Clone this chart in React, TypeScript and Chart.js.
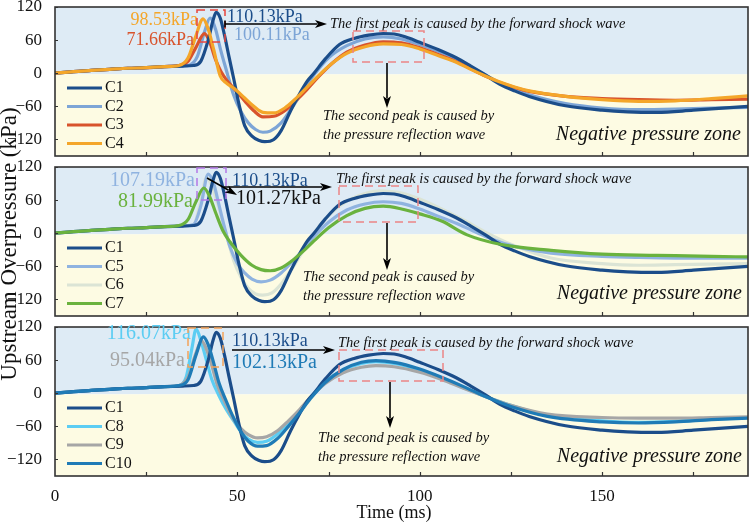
import React, { useEffect, useRef } from "react";
import { Chart, registerables } from "chart.js";

Chart.register(...registerables);

const SERIF = '"Liberation Serif", "Times New Roman", Times, serif';
const W = 750;
const H = 524;

// Peak overpressures (kPa) of the forward shock wave
const PEAK_C1 = 110.13;
const PEAK_C2 = 100.11;
const PEAK_C3 = 71.66;
const PEAK_C4 = 98.53;
const PEAK_C5 = 107.19;
const PEAK_C6 = 101.27;
const PEAK_C7 = 81.99;
const PEAK_C8 = 116.07;
const PEAK_C9 = 95.04;
const PEAK_C10 = 102.13;

// Time (ms) / upstream overpressure (kPa) for each case
const tC1 = [0, 5, 10, 15, 20, 25, 30, 35, 38, 40, 42, 43.3, 44.2, 45.3, 46.5, 47.7, 49, 50.5, 52, 54, 56, 57.5, 60, 62, 64.6, 67, 69.2, 71, 74, 78, 82, 86, 90, 93, 96, 100, 105, 110, 114, 118, 122, 126, 130, 140, 150, 157, 165, 175, 190];
const pC1 = [0, 3, 5, 7, 9, 10, 12, 13, 14, 22, 60, 95, PEAK_C1, 100, 68, 30, -10, -58, -95, -114, -122, -124, -120, -104, -68, -38, -14, 0, 25, 52, 63, 69, 72, 71, 66, 56, 43, 28, 13, -3, -20, -32, -42, -59, -67, -70, -71, -67, -60];

const tC2 = [0, 5, 10, 15, 20, 25, 30, 35, 37, 39, 41, 42.5, 44, 45.5, 47, 49, 51, 53, 55, 57, 59, 62, 65, 68, 71, 75, 80, 85, 90, 95, 100, 105, 110, 114, 118, 122, 126, 130, 140, 150, 160, 170, 180, 190];
const pC2 = [0, 3, 5, 7, 9, 10, 12, 13, 15, 30, 75, PEAK_C2, 80, 40, 5, -40, -70, -90, -102, -107, -105, -90, -62, -32, -3, 28, 50, 62, 66, 62, 52, 40, 26, 12, -3, -18, -30, -39, -55, -63, -66, -65, -63, -62];

const tC3 = [0, 5, 10, 15, 20, 25, 30, 34, 36.5, 38.5, 41, 42.5, 44, 45.5, 47, 49, 52, 54.5, 57, 60, 63, 66, 69, 72, 76, 80, 85, 90, 95, 100, 105, 110, 114, 118, 122, 126, 130, 140, 150, 160, 170, 180, 190];
const pC3 = [0, 3, 5, 7, 9, 10, 12, 14, 22, 45, PEAK_C3, 55, 25, 3, -12, -27, -50, -68, -79, -78, -68, -50, -30, -8, 18, 38, 51, 57, 55, 46, 34, 21, 8, -5, -17, -26, -33, -42, -46, -48, -49, -48, -47];

const tC4 = [0, 5, 10, 15, 20, 25, 30, 34, 36.5, 38.5, 40.6, 42, 43.5, 45.3, 47, 49, 52, 54.5, 57, 60, 63, 66, 69, 72, 76, 80, 85, 90, 95, 100, 105, 110, 114, 118, 122, 126, 130, 140, 150, 160, 170, 180, 190];
const pC4 = [0, 3, 5, 7, 9, 10, 12, 14, 28, 65, PEAK_C4, 80, 43, -5, -18, -27, -45, -60, -71, -72, -63, -46, -26, -6, 18, 36, 48, 53, 52, 44, 32, 20, 7, -5, -16, -25, -32, -42, -48, -51, -50, -46, -41];

const tC5 = [0, 5, 10, 15, 20, 25, 30, 35, 38, 40, 42, 43.5, 45, 46.5, 48, 50, 52, 54, 56.5, 59, 62, 65, 68, 71, 75, 80, 85, 90, 95, 100, 105, 110, 114, 118, 122, 126, 136, 150, 160, 170, 180, 190];
const pC5 = [0, 3, 5, 7, 9, 10, 12, 13, 16, 50, PEAK_C5, 90, 50, 10, -25, -55, -72, -83, -88, -85, -72, -52, -30, -6, 20, 42, 53, 57, 54, 44, 31, 18, 6, -6, -16, -24, -36, -42, -44, -45, -45, -45];

const tC6 = [0, 5, 10, 15, 20, 25, 30, 35, 38, 40, 41.5, 43, 44.5, 46, 47.5, 49, 51, 53, 55, 57, 59.5, 62, 65, 68, 71, 75, 80, 85, 89, 94, 100, 106, 112, 118, 125, 136, 150, 160, 170, 180, 190];
const pC6 = [0, 3, 5, 7, 9, 10, 12, 13, 16, 60, PEAK_C6, 85, 55, 20, -15, -50, -80, -100, -110, -112, -108, -92, -64, -32, 0, 32, 58, 72, 77, 74, 62, 44, 24, 2, -20, -45, -55, -58, -57, -56, -55];

const tC7 = [0, 5, 10, 15, 20, 25, 30, 34, 36.5, 38.5, 40.8, 42.3, 44, 46, 48, 51, 54, 56.5, 59, 62, 65, 68, 71, 75, 80, 85, 90, 95, 100, 106, 113, 122, 136, 150, 165, 180, 190];
const pC7 = [0, 3, 5, 7, 9, 10, 12, 14, 25, 55, PEAK_C7, 68, 38, 5, -16, -40, -58, -66, -68, -63, -50, -33, -14, 10, 32, 45, 49, 44, 35, 22, -3, -20, -31, -38, -40, -42, -43];

const tC8 = [0, 5, 10, 15, 20, 25, 30, 34, 36, 37.5, 38.7, 40, 41.5, 43, 45, 47, 49, 51, 53, 55.5, 58, 61, 64, 67, 70, 74, 79, 84, 88, 93, 100, 106, 112, 118, 125, 135, 150, 160, 170, 180, 190];
const pC8 = [0, 3, 5, 7, 9, 10, 12, 14, 30, 80, PEAK_C8, 95, 60, 25, -5, -30, -50, -70, -83, -89, -87, -74, -54, -32, -8, 20, 42, 54, 57, 54, 42, 27, 10, -6, -22, -40, -50, -53, -51, -47, -44];

const tC9 = [0, 5, 10, 15, 20, 25, 30, 34, 36.5, 38.5, 40.2, 41.5, 43, 44.5, 46.5, 49, 51, 53, 55.5, 58, 61, 64, 67, 70, 74, 79, 84, 88, 93, 100, 106, 112, 118, 125, 135, 150, 160, 170, 180, 190];
const pC9 = [0, 3, 5, 7, 9, 10, 12, 14, 30, 70, PEAK_C9, 80, 50, 15, -15, -48, -64, -75, -81, -79, -68, -50, -30, -8, 17, 37, 47, 50, 48, 38, 25, 9, -6, -22, -38, -44, -45, -45, -44, -43];

const tC10 = [0, 5, 10, 15, 20, 25, 30, 34, 36.5, 38.7, 40.7, 42, 43.5, 45, 47, 49, 51, 53, 55.5, 58, 61, 64, 67, 70, 74, 79, 84, 88, 93, 100, 106, 112, 118, 125, 135, 150, 160, 170, 180, 190];
const pC10 = [0, 3, 5, 7, 9, 10, 12, 14, 25, 70, PEAK_C10, 88, 55, 18, -15, -45, -70, -87, -96, -95, -82, -60, -36, -10, 19, 43, 56, 59, 56, 44, 29, 12, -6, -24, -42, -52, -54, -52, -48, -45];

// Axis ticks
const X_LABEL_TICKS = [0, 50, 100, 150];
const X_MINOR_TICKS = [25, 50, 75, 100, 125, 150, 175];
const Y_TICKS = [-120, -60, 0, 60, 120];
const X_MIN = 0;
const X_MAX = 190;
const Y_MIN = -150;
const Y_MAX = 120;

const COLORS: Record<string, string> = {
  C1: "#1b4d8a",
  C2: "#7da5d6",
  C3: "#d8532c",
  C4: "#f4a62a",
  C5: "#8fb3e0",
  C6: "#dbe4d5",
  C7: "#6ab23e",
  C8: "#5ccdf3",
  C9: "#a6a6a6",
  C10: "#1f7bb6",
};

type Series = { name: string; t: number[]; p: number[]; order: number };

const panel1: Series[] = [
  { name: "C1", t: tC1, p: pC1, order: 1 },
  { name: "C2", t: tC2, p: pC2, order: 3 },
  { name: "C3", t: tC3, p: pC3, order: 2 },
  { name: "C4", t: tC4, p: pC4, order: 0 },
];
const panel2: Series[] = [
  { name: "C1", t: tC1, p: pC1, order: 1 },
  { name: "C5", t: tC5, p: pC5, order: 2 },
  { name: "C6", t: tC6, p: pC6, order: 3 },
  { name: "C7", t: tC7, p: pC7, order: 0 },
];
const panel3: Series[] = [
  { name: "C1", t: tC1, p: pC1, order: 1 },
  { name: "C8", t: tC8, p: pC8, order: 3 },
  { name: "C9", t: tC9, p: pC9, order: 2 },
  { name: "C10", t: tC10, p: pC10, order: 0 },
];

const kpa = (v: number) => `${v.toFixed(2)}kPa`;

// ---------- drawing helpers ----------
function text(
  ctx: CanvasRenderingContext2D,
  s: string,
  x: number,
  y: number,
  font: string,
  color: string,
  align: CanvasTextAlign = "left"
) {
  ctx.save();
  ctx.font = font;
  ctx.fillStyle = color;
  ctx.textAlign = align;
  ctx.textBaseline = "middle";
  ctx.fillText(s, x, y);
  ctx.restore();
}

function arrow(ctx: CanvasRenderingContext2D, x1: number, y1: number, x2: number, y2: number, startBar = false) {
  const ang = Math.atan2(y2 - y1, x2 - x1);
  const hl = 12;
  const hw = 4;
  ctx.save();
  ctx.strokeStyle = "#000";
  ctx.fillStyle = "#000";
  ctx.lineWidth = 1.6;
  ctx.beginPath();
  ctx.moveTo(x1, y1);
  ctx.lineTo(x2 - Math.cos(ang) * hl * 0.8, y2 - Math.sin(ang) * hl * 0.8);
  ctx.stroke();
  ctx.beginPath();
  ctx.moveTo(x2, y2);
  ctx.lineTo(x2 - Math.cos(ang) * hl - Math.sin(ang) * hw, y2 - Math.sin(ang) * hl + Math.cos(ang) * hw);
  ctx.lineTo(x2 - Math.cos(ang) * hl * 0.75, y2 - Math.sin(ang) * hl * 0.75);
  ctx.lineTo(x2 - Math.cos(ang) * hl + Math.sin(ang) * hw, y2 - Math.sin(ang) * hl - Math.cos(ang) * hw);
  ctx.closePath();
  ctx.fill();
  if (startBar) {
    ctx.beginPath();
    ctx.moveTo(x1, y1 - 3.5);
    ctx.lineTo(x1, y1 + 3.5);
    ctx.stroke();
  }
  ctx.restore();
}

function dashBox(ctx: CanvasRenderingContext2D, x1: number, y1: number, x2: number, y2: number, color: string) {
  ctx.save();
  ctx.strokeStyle = color;
  ctx.lineWidth = 1.5;
  ctx.setLineDash([8, 5]);
  ctx.strokeRect(x1, y1, x2 - x1, y2 - y1);
  ctx.restore();
}

const F_PEAK = `18px ${SERIF}`;
const F_PEAK_L = `20px ${SERIF}`;
const F_NOTE = `italic 14.5px ${SERIF}`;
const F_ZONE = `italic 20px ${SERIF}`;
const F_LEG = `16px ${SERIF}`;

const FIRST_NOTE = "The first peak is caused by the forward shock wave";
const SECOND_NOTE_1 = "The second peak is caused by";
const SECOND_NOTE_2 = "the pressure reflection wave";
const ZONE_NOTE = "Negative pressure zone";

type Extras = (ctx: CanvasRenderingContext2D) => void;

const extras1: Extras = (ctx) => {
  text(ctx, kpa(PEAK_C4), 198, 20, F_PEAK, COLORS.C4, "right");
  text(ctx, kpa(PEAK_C3), 194, 40, F_PEAK, COLORS.C3, "right");
  dashBox(ctx, 197, 10, 225, 42, "#e8453c");
  text(ctx, kpa(PEAK_C1), 227, 17, F_PEAK, COLORS.C1);
  text(ctx, kpa(PEAK_C2), 234, 35, F_PEAK, COLORS.C2);
  arrow(ctx, 225, 24, 327, 24, true);
  text(ctx, FIRST_NOTE, 330, 24, F_NOTE, "#111");
  dashBox(ctx, 353, 31, 424, 62, "#ec8585");
  arrow(ctx, 387, 63, 387, 108);
  text(ctx, SECOND_NOTE_1, 323, 116, F_NOTE, "#111");
  text(ctx, SECOND_NOTE_2, 323, 135, F_NOTE, "#111");
  text(ctx, ZONE_NOTE, 741, 135, F_ZONE, "#111", "right");
};

const extras2: Extras = (ctx) => {
  text(ctx, kpa(PEAK_C5), 195, 181, F_PEAK_L, COLORS.C5, "right");
  text(ctx, kpa(PEAK_C7), 193, 202, F_PEAK_L, COLORS.C7, "right");
  dashBox(ctx, 197, 168, 226, 200, "#b47ae6");
  text(ctx, kpa(PEAK_C1), 232, 181, F_PEAK, COLORS.C1);
  arrow(ctx, 224, 187, 332, 187);
  arrow(ctx, 207, 178, 237, 195);
  text(ctx, kpa(PEAK_C6), 236, 199, F_PEAK_L, "#111");
  text(ctx, FIRST_NOTE, 336, 179, F_NOTE, "#111");
  dashBox(ctx, 339, 186, 418, 222, "#ec8585");
  arrow(ctx, 387, 223, 387, 270);
  text(ctx, SECOND_NOTE_1, 303, 277, F_NOTE, "#111");
  text(ctx, SECOND_NOTE_2, 303, 296, F_NOTE, "#111");
  text(ctx, ZONE_NOTE, 742, 294, F_ZONE, "#111", "right");
  // shared y-axis title
  ctx.save();
  ctx.translate(10, 244);
  ctx.rotate(-Math.PI / 2);
  text(ctx, "Upstream Overpressure (kPa)", 0, 0, `23px ${SERIF}`, "#111", "center");
  ctx.restore();
};

const extras3: Extras = (ctx) => {
  text(ctx, kpa(PEAK_C8), 191, 334, F_PEAK_L, COLORS.C8, "right");
  text(ctx, kpa(PEAK_C9), 185, 361, F_PEAK_L, COLORS.C9, "right");
  dashBox(ctx, 188, 328, 223, 367, "#f3a35a");
  text(ctx, kpa(PEAK_C1), 232, 341, F_PEAK, COLORS.C1);
  arrow(ctx, 232, 350, 335, 350);
  text(ctx, kpa(PEAK_C10), 232, 363, F_PEAK_L, COLORS.C10);
  text(ctx, FIRST_NOTE, 338, 343, F_NOTE, "#111");
  dashBox(ctx, 339, 350, 443, 381, "#ec8585");
  arrow(ctx, 390, 382, 390, 428);
  text(ctx, SECOND_NOTE_1, 318, 438, F_NOTE, "#111");
  text(ctx, SECOND_NOTE_2, 318, 457, F_NOTE, "#111");
  text(ctx, ZONE_NOTE, 742, 457, F_ZONE, "#111", "right");
  text(ctx, "Time (ms)", 394, 513, `18px ${SERIF}`, "#111", "center");
};

function panelPlugin(series: Series[], extras: Extras) {
  return {
    id: "panelDecor",
    beforeDatasetsDraw(chart: any) {
      const { ctx, chartArea: a, scales } = chart;
      const yZero = scales.y.getPixelForValue(-2);
      ctx.save();
      ctx.fillStyle = "#deebf5";
      ctx.fillRect(a.left, a.top, a.right - a.left, yZero - a.top);
      ctx.fillStyle = "#fdfbe3";
      ctx.fillRect(a.left, yZero, a.right - a.left, a.bottom - yZero);
      ctx.restore();
    },
    afterDatasetsDraw(chart: any) {
      const { ctx, chartArea: a, scales } = chart;
      ctx.save();
      // frame
      ctx.strokeStyle = "#333";
      ctx.lineWidth = 1.6;
      ctx.strokeRect(a.left, a.top, a.right - a.left, a.bottom - a.top);
      // inward ticks on the time axis
      ctx.lineWidth = 1.2;
      ctx.beginPath();
      for (const v of X_MINOR_TICKS) {
        const x = Math.round(scales.x.getPixelForValue(v)) + 0.5;
        ctx.moveTo(x, a.bottom);
        ctx.lineTo(x, a.bottom - 4);
      }
      for (const v of Y_TICKS) {
        const y = Math.round(scales.y.getPixelForValue(v)) + 0.5;
        ctx.moveTo(a.left, y);
        ctx.lineTo(a.left + 3, y);
      }
      ctx.stroke();
      // legend
      series.forEach((s, i) => {
        const y = a.top + 81 + i * 18.5;
        ctx.strokeStyle = COLORS[s.name];
        ctx.lineWidth = 3;
        ctx.beginPath();
        ctx.moveTo(67, y);
        ctx.lineTo(102, y);
        ctx.stroke();
        text(ctx, s.name, 105, y, F_LEG, "#111");
      });
      ctx.restore();
      extras(ctx);
    },
  };
}

function buildChart(canvas: HTMLCanvasElement, series: Series[], top: number, bottom: number, showX: boolean, extras: Extras) {
  const xh = showX ? 30 : 0;
  return new Chart(canvas, {
    type: "line",
    data: {
      datasets: series.map((s) => ({
        label: s.name,
        data: s.t.map((t, i) => ({ x: t, y: s.p[i] })),
        borderColor: COLORS[s.name],
        backgroundColor: COLORS[s.name],
        borderWidth: 3.2,
        pointRadius: 0,
        cubicInterpolationMode: "monotone" as const,
        fill: false,
        order: s.order,
      })),
    },
    options: {
      responsive: false,
      animation: false,
      devicePixelRatio: 1,
      events: [],
      layout: { padding: { top, bottom: H - bottom - xh, left: 0, right: 2 } },
      plugins: { legend: { display: false }, tooltip: { enabled: false }, title: { display: false } },
      scales: {
        x: {
          type: "linear",
          min: X_MIN,
          max: X_MAX,
          display: showX,
          grid: { display: false },
          border: { display: false },
          ticks: { font: { family: SERIF, size: 17 }, color: "#111", padding: 2, maxRotation: 0, autoSkip: false },
          afterBuildTicks: (ax: any) => {
            ax.ticks = X_LABEL_TICKS.map((v) => ({ value: v }));
          },
          afterFit: (ax: any) => {
            ax.height = xh;
            ax.paddingLeft = 0;
            ax.paddingRight = 0;
          },
        },
        y: {
          type: "linear",
          min: Y_MIN,
          max: Y_MAX,
          grid: { display: false },
          border: { display: false },
          ticks: {
            font: { family: SERIF, size: 17 },
            color: "#111",
            padding: 5,
            autoSkip: false,
            callback: (v: any) => String(v).replace("-", "\u2212"),
          },
          afterBuildTicks: (ax: any) => {
            ax.ticks = Y_TICKS.map((v) => ({ value: v }));
          },
          afterFit: (ax: any) => {
            ax.width = 55;
            ax.paddingTop = 0;
            ax.paddingBottom = 0;
          },
        },
      },
    },
    plugins: [panelPlugin(series, extras)],
  } as any);
}

export default function App() {
  const r1 = useRef<HTMLCanvasElement>(null);
  const r2 = useRef<HTMLCanvasElement>(null);
  const r3 = useRef<HTMLCanvasElement>(null);

  useEffect(() => {
    const charts = [
      buildChart(r1.current!, panel1, 7, 156, false, extras1),
      buildChart(r2.current!, panel2, 167, 316, false, extras2),
      buildChart(r3.current!, panel3, 327, 476, true, extras3),
    ];
    return () => charts.forEach((c) => c.destroy());
  }, []);

  const cs: React.CSSProperties = { position: "absolute", left: 0, top: 0, width: W, height: H };
  return (
    <div style={{ position: "absolute", left: 0, top: 0, width: W, height: H, background: "#fff" }}>
      <canvas ref={r1} width={W} height={H} style={cs} />
      <canvas ref={r2} width={W} height={H} style={cs} />
      <canvas ref={r3} width={W} height={H} style={cs} />
    </div>
  );
}
